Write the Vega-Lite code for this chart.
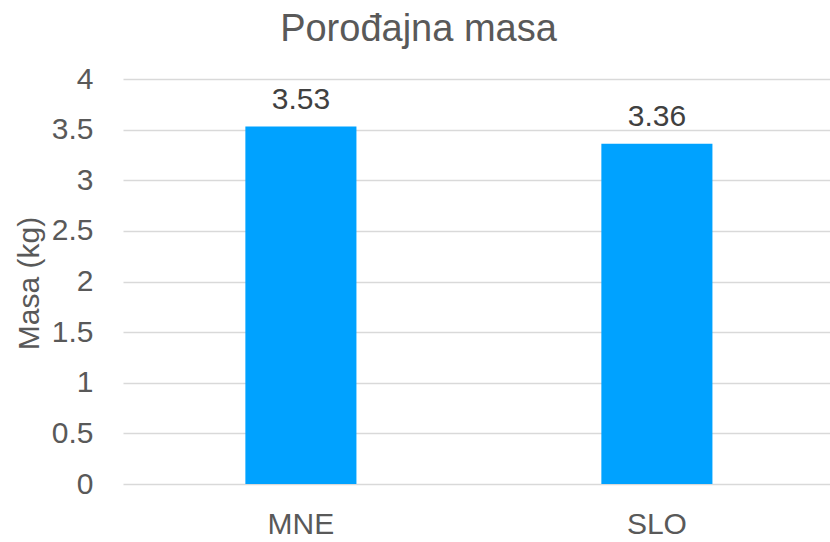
{
  "$schema": "https://vega.github.io/schema/vega-lite/v6.json",
  "width": 707,
  "height": 405,
  "autosize": "none",
  "padding": {"left": 123, "top": 79, "right": 0, "bottom": 58},
  "background": "white",
  "config": {
    "view": {"stroke": null},
    "font": "Liberation Sans"
  },
  "title": {
    "text": "Porođajna masa",
    "fontSize": 38,
    "fontWeight": "normal",
    "color": "#595959",
    "anchor": "middle",
    "frame": "group",
    "dx": -58,
    "offset": 15
  },
  "data": {
    "values": [
      {"country": "MNE", "mass": 3.53},
      {"country": "SLO", "mass": 3.36}
    ]
  },
  "encoding": {
    "x": {
      "field": "country",
      "type": "nominal",
      "sort": null,
      "scale": {"paddingInner": 0.688, "paddingOuter": 0.337, "align": 0.51},
      "axis": {
        "title": null,
        "labelAngle": 0,
        "labelFontSize": 30,
        "labelColor": "#595959",
        "labelPadding": 25,
        "ticks": false,
        "domain": false,
        "grid": false
      }
    },
    "y": {
      "field": "mass",
      "type": "quantitative",
      "scale": {"domain": [0, 4], "nice": false},
      "axis": {
        "title": "Masa (kg)",
        "titleFontSize": 30,
        "titleFontWeight": "normal",
        "titleColor": "#595959",
        "titleX": -94,
        "titleY": 204,
        "titleBaseline": "middle",
        "titleAngle": -90,
        "values": [0, 0.5, 1, 1.5, 2, 2.5, 3, 3.5, 4],
        "format": "~g",
        "labelFontSize": 30,
        "labelColor": "#595959",
        "labelPadding": 30,
        "ticks": false,
        "domain": false,
        "grid": true,
        "gridColor": "#d9d9d9",
        "gridWidth": 1.5
      }
    }
  },
  "layer": [
    {"mark": {"type": "bar", "color": "#00A2FF"}},
    {
      "mark": {"type": "text", "fontSize": 30, "color": "#404040", "baseline": "alphabetic", "dy": -18},
      "encoding": {"text": {"field": "mass", "type": "quantitative", "format": ".2f"}}
    }
  ]
}
